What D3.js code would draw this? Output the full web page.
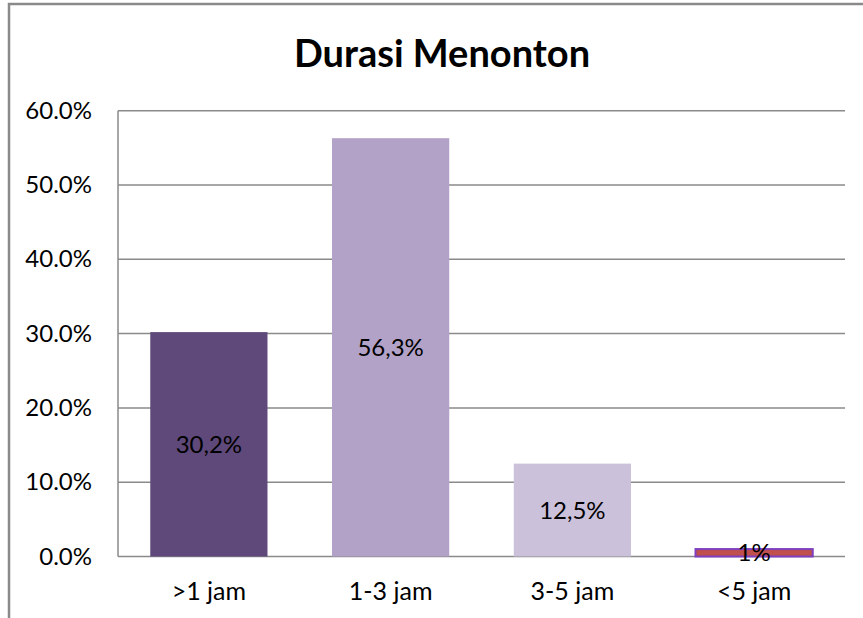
<!DOCTYPE html>
<html>
<head>
<meta charset="utf-8">
<script src="https://cdn.jsdelivr.net/npm/d3@7"></script>
<style>
  body { margin: 0; background: #fff; }
  svg { display: block; font-family: Lato, "Open Sans", sans-serif; }
</style>
</head>
<body>
<div id="chart"></div>
<script>
const categories = ['>1 jam', '1-3 jam', '3-5 jam', '<5 jam'];
const values = [0.302, 0.563, 0.125, 0.01];
const valueLabels = ['30,2%', '56,3%', '12,5%', '1%'];
const barColors = ['#5f497a', '#b3a2c7', '#ccc1da', '#c0504d'];
const barStrokes = ['none', 'none', 'none', '#7f3fbf'];
const yTicks = [0, 0.1, 0.2, 0.3, 0.4, 0.5, 0.6];

const svgWidth = 863;
const svgHeight = 618;
const margin = { top: 110.7, right: 18, bottom: 61.5, left: 118 };

const svg = d3.select('#chart').append('svg')
    .attr('width', svgWidth)
    .attr('height', svgHeight);

// outer chart frame (cropped on right and bottom)
svg.append('path')
    .attr('d', `M9,${svgHeight + 2} V4 H${svgWidth + 2}`)
    .attr('fill', 'none')
    .attr('stroke', '#8a8a8a')
    .attr('stroke-width', 2.5);

svg.append('text')
    .attr('x', 442)
    .attr('y', 67)
    .attr('text-anchor', 'middle')
    .attr('font-size', 38)
    .attr('font-weight', 'bold')
    .attr('fill', '#000')
    .text('Durasi Menonton');

const x = d3.scaleBand()
    .domain(categories)
    .range([margin.left, svgWidth - margin.right])
    .paddingInner(0.355)
    .paddingOuter(0.1775);

const y = d3.scaleLinear()
    .domain([0, 0.6])
    .range([svgHeight - margin.bottom, margin.top]);

// gridlines
svg.append('g')
    .selectAll('line')
    .data(yTicks)
    .enter().append('line')
    .attr('x1', margin.left)
    .attr('x2', svgWidth - margin.right)
    .attr('y1', d => y(d))
    .attr('y2', d => y(d))
    .attr('stroke', '#8a8a8a')
    .attr('stroke-width', 1.5);

// y axis line
svg.append('line')
    .attr('x1', margin.left).attr('x2', margin.left)
    .attr('y1', y(0.6)).attr('y2', y(0))
    .attr('stroke', '#8a8a8a')
    .attr('stroke-width', 1.5);

const yAxis = svg.append('g')
    .attr('transform', `translate(${margin.left},0)`)
    .call(d3.axisLeft(y).tickValues(yTicks).tickFormat(d3.format('.1%')).tickSize(0).tickPadding(26));
yAxis.select('.domain').remove();
yAxis.selectAll('text')
    .attr('font-size', 24)
    .attr('font-family', 'Lato, sans-serif')
    .attr('fill', '#000');

const xAxis = svg.append('g')
    .attr('transform', `translate(0,${y(0)})`)
    .call(d3.axisBottom(x).tickSize(0).tickPadding(0));
xAxis.select('.domain').remove();
xAxis.selectAll('text')
    .attr('y', 43)
    .attr('dy', null)
    .attr('font-size', 25)
    .attr('font-family', 'Lato, sans-serif')
    .attr('fill', '#000');

// bars
svg.selectAll('.bar')
    .data(values)
    .enter().append('rect')
    .attr('class', 'bar')
    .attr('x', (d, i) => x(categories[i]))
    .attr('y', d => y(d))
    .attr('width', x.bandwidth())
    .attr('height', d => y(0) - y(d))
    .attr('fill', (d, i) => barColors[i])
    .attr('stroke', (d, i) => barStrokes[i])
    .attr('stroke-width', 2);

// value labels
svg.selectAll('.val')
    .data(values)
    .enter().append('text')
    .attr('class', 'val')
    .attr('x', (d, i) => x(categories[i]) + x.bandwidth() / 2)
    .attr('y', d => (y(d) + y(0)) / 2)
    .attr('dy', '0.36em')
    .attr('text-anchor', 'middle')
    .attr('font-size', 24)
    .attr('fill', '#000')
    .text((d, i) => valueLabels[i]);
</script>
</body>
</html>
